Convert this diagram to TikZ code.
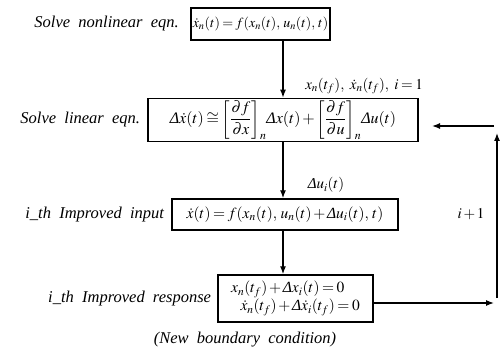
\documentclass[tikz,border=0pt]{standalone}
\usepackage{amsmath}
\usepackage{mathptmx}
\usepackage[no-math]{fontspec}
\setmainfont{Liberation Serif}
\usetikzlibrary{arrows.meta,calc}
\newcommand{\Dl}{\mbox{\itshape Δ}}
\AtBeginDocument{\thickmuskip=3mu\medmuskip=2mu\relax}
\begin{document}
\begin{tikzpicture}[x=1pt,y=-1pt,
  font=\fontsize{15}{18}\selectfont,
  eqbox/.style={draw,line width=1.5pt,inner sep=2pt,align=center},
  steplabel/.style={anchor=east,inner sep=1pt,font=\fontsize{16.5}{19}\selectfont\itshape},
  flow/.style={line width=1.3pt,-{Latex[length=8pt,width=6pt]}}]
\useasboundingbox (0,0) rectangle (502,355);
\coordinate (spine) at (283,0);

% equation boxes
\node[eqbox,minimum width=135pt,minimum height=32pt,font=\fontsize{14}{17}\selectfont] (b1) at (260.5,24)
  {$\dot{x}_n(t)=f(x_n(t),\,u_n(t),\,t)$};
\node[eqbox,minimum width=270pt,minimum height=40pt,font=\fontsize{16}{19}\selectfont] (b2) at (283,120)
  {$\Dl\dot{x}(t)\cong\left[\dfrac{\partial f}{\partial x}\right]_n\!\Dl x(t)+\left[\dfrac{\partial f}{\partial u}\right]_n\!\Dl u(t)$};
\node[eqbox,minimum width=226pt,minimum height=31pt,font=\fontsize{15.5}{18}\selectfont] (b3) at (285,214.5)
  {$\dot{x}(t)=f(x_n(t),\,u_n(t)+\Dl u_i(t),\,t)$};
\node[eqbox,minimum width=155pt,minimum height=47pt,align=left,font=\fontsize{15.5}{17}\selectfont] (b4) at (295.5,298.5)
  {$x_n(t_f)+\Dl x_i(t)=0$\\[1pt]\hspace*{0.6em}$\dot{x}_n(t_f)+\Dl\dot{x}_i(t_f)=0$};

% step names
\node[steplabel] (l1) at ($(b1.west)+(-10,0)$) {Solve \ nonlinear \ eqn.};
\node[steplabel] (l2) at ($(b2.west)+(-6,0)$) {Solve \ linear \ eqn.};
\node[steplabel] (l3) at ($(b3.west)+(-6,0)$) {i\_th \ Improved \ input};
\node[steplabel] (l4) at ($(b4.west)+(-5,0)$) {i\_th \ Improved \ response};
\node[font=\fontsize{16.5}{19}\selectfont\itshape] (bc) at (245,340) {(New \ boundary \ condition)};

% main flow
\draw[flow] (b1.south -| spine) -- (b2.north -| spine);
\draw[flow] (b2.south -| spine) -- (b3.north -| spine);
\draw[flow] (b3.south -| spine) -- (b4.north -| spine);
\node (t1) at (364,86) {$x_n(t_f),\ \dot{x}_n(t_f),\ i=1$};
\node (t2) at (326,185) {$\Dl u_i(t)$};

% feedback loop
\coordinate (f1) at (494,303);
\coordinate (f2) at (497,298);
\coordinate (f3) at (497,133);
\coordinate (f4) at (494,126);
\coordinate (f5) at (432,126);
\draw[flow] (b4.east |- f1) -- (f1);
\draw[flow] (f2) -- (f3);
\draw[flow] (f4) -- (f5);
\node (t3) at (471,214) {$i+1$};
\end{tikzpicture}
\end{document}
